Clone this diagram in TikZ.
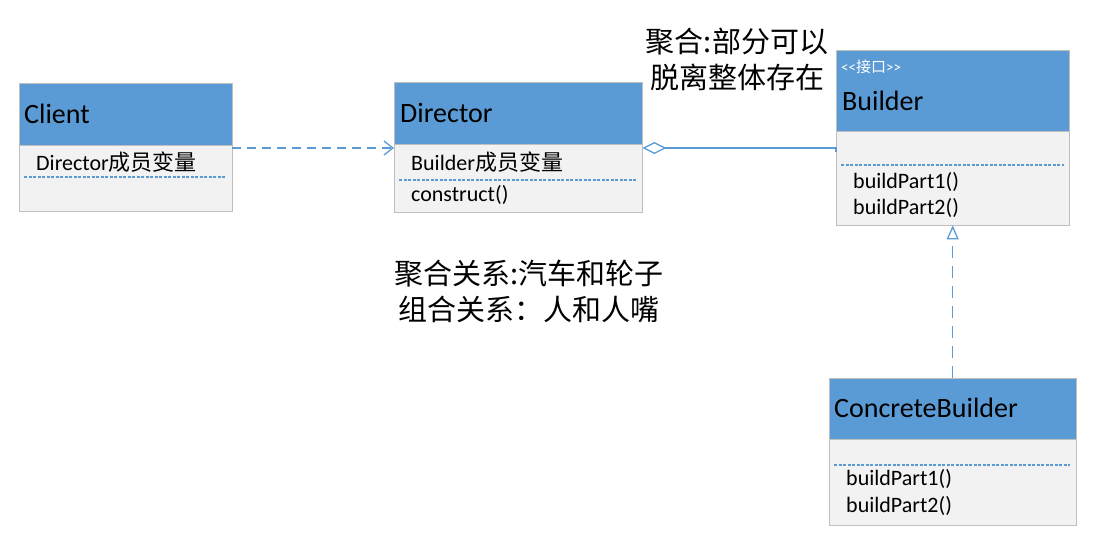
\documentclass[tikz,border=0pt]{standalone}
\usepackage{fontspec}
\setmainfont{Carlito}
\newfontfamily\cjk{Noto Sans CJK SC}
\usetikzlibrary{arrows.meta}
\definecolor{umlblue}{HTML}{5B9BD5}
\definecolor{umlgray}{HTML}{F2F2F2}
\definecolor{umlline}{HTML}{BFBFBF}
\definecolor{linkblue}{HTML}{5B9BD5}

\tikzset{
    head/.style={draw=umlline, fill=umlblue, rectangle, inner sep=0pt, anchor=north west},
    body/.style={draw=umlline, fill=umlgray, rectangle, inner sep=0pt, anchor=north west},
    title/.style={anchor=west, inner sep=0pt, font=\fontsize{28}{32}\selectfont},
    field/.style={anchor=west, inner sep=0pt, font=\fontsize{22}{25}\selectfont},
    sep/.style={draw=linkblue, line width=1.3pt, dash pattern=on 3pt off 1.5pt},
    link/.style={draw=linkblue, line width=1.3pt},
    note/.style={align=center, inner sep=0pt, font=\cjk\fontsize{29}{36}\selectfont}
}

\begin{document}
\begin{tikzpicture}[x=1pt,y=-1pt]
    \useasboundingbox (0,0) rectangle (1115,555);
    % Client
    \node[head, minimum width=213pt, minimum height=62pt] (clienthead) at (19,83) {};
    \node[body, minimum width=213pt, minimum height=66pt] (clientbody) at (19,145) {};
    \node[title] (clientname) at (24,114) {Client};
    \node[field] (clientfield) at (36,162) {Director{\cjk 成员变量}};
    \draw[sep] (24,177) -- (226,177);
    % Director
    \node[head, minimum width=248pt, minimum height=62pt] (dirhead) at (394,82) {};
    \node[body, minimum width=248pt, minimum height=68pt] (dirbody) at (394,144) {};
    \node[title] (dirname) at (400,113) {Director};
    \node[field] (dirfield) at (411,162) {Builder{\cjk 成员变量}};
    \draw[sep] (399,180) -- (636,180);
    \node[field] (dirop) at (411,195) {construct()};
    % Builder
    \node[head, minimum width=233pt, minimum height=81pt] (bldhead) at (836,50) {};
    \node[body, minimum width=233pt, minimum height=94pt] (bldbody) at (836,131) {};
    \node[anchor=west, inner sep=0pt, text=white, font=\fontsize{15}{17}\selectfont] (bldstereo) at (841,67) {<{}<{\cjk 接口}>{}>};
    \node[title] (bldname) at (842,101) {Builder};
    \draw[sep] (841,165) -- (1064,165);
    \node[field] (bldopa) at (853,182) {buildPart1()};
    \node[field] (bldopb) at (853,208) {buildPart2()};
    % ConcreteBuilder
    \node[head, minimum width=247pt, minimum height=61pt] (cbhead) at (829,378) {};
    \node[body, minimum width=247pt, minimum height=86pt] (cbbody) at (829,439) {};
    \node[title] (cbname) at (834,408) {ConcreteBuilder};
    \draw[sep] (834,465) -- (1070,465);
    \node[field] (cbopa) at (846,479) {buildPart1()};
    \node[field] (cbopb) at (846,506) {buildPart2()};
    % notes
    \node[note] (aggnote) at (737,59) {聚合:部分可以\\脱离整体存在};
    \node[note] (relnote) at (529,291) {聚合关系:汽车和轮子\\组合关系：人和人嘴};
    % connectors
    \draw[link, dash pattern=on 9pt off 6pt, -{Straight Barb[length=9pt, width=14pt]}]
        ([yshift=-3pt]clientbody.north east) -- ([yshift=-4pt]dirbody.north west);
    \draw[link, {Diamond[open, length=24pt, width=12pt]}-]
        ([yshift=-4pt]dirbody.north east) -- ([yshift=-4pt]dirbody.north east -| bldbody.west) -- ++(0,4);
    \draw[link, dash pattern=on 12pt off 8pt, -{Triangle[open, length=14pt, width=12pt]}]
        (cbhead.north) -- (bldbody.south);
\end{tikzpicture}
\end{document}
